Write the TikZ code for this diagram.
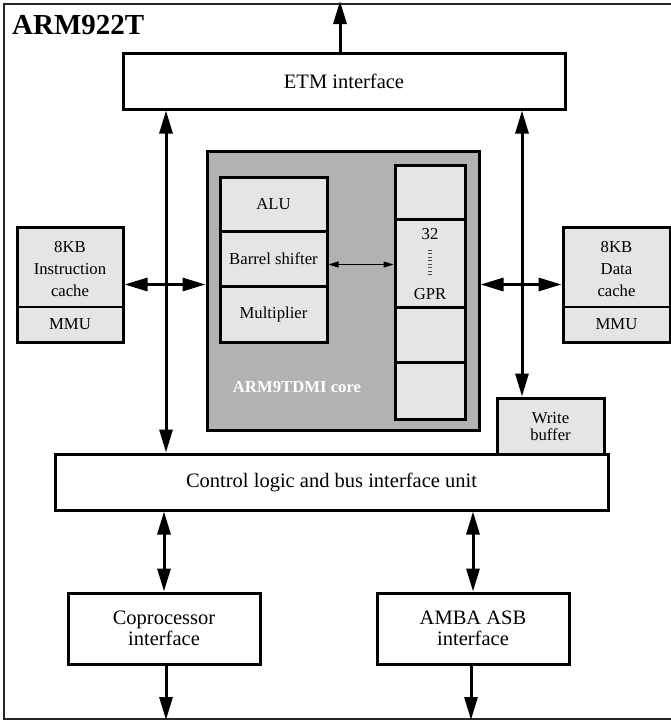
\documentclass[tikz,border=0pt]{standalone}
\usepackage{fontspec}
\setmainfont{Liberation Serif}
\usetikzlibrary{arrows.meta}

\begin{document}
\begin{tikzpicture}[x=1pt, y=-1pt,
  box/.style={draw, line width=3pt, fill=white, inner sep=0pt, align=center,
    font={\fontsize{20.5}{21}\selectfont}},
  unit/.style={box, fill=black!10, minimum width=107pt,
    font={\fontsize{16.7}{22}\selectfont}},
  reg/.style={box, fill=black!10, minimum width=70pt},
  txt/.style={inner sep=0pt, align=center, font={\fontsize{16.7}{22}\selectfont}},
  bus/.style={line width=3pt, {Triangle[length=23pt,width=13pt]}-{Triangle[length=23pt,width=13pt]}},
  busout/.style={line width=3pt, -{Triangle[length=23pt,width=13pt]}},
  thinbus/.style={line width=1.3pt, {Triangle[length=10pt,width=6pt]}-{Triangle[length=10pt,width=6pt]}}]
  \useasboundingbox (0,0) rectangle (671,721);
  % Frame
  \draw[line width=1.5pt, black!85] (680,4) -- (4,4) -- (4,719) -- (680,719);
  \node[anchor=base west, inner sep=0pt, font={\bfseries\fontsize{29}{29}\selectfont}] (title) at (12,34) {ARM922T};
  % ETM
  \node[box, minimum width=442pt, minimum height=56pt] (etm) at (344,81) {ETM interface};
  % Core
  \node[box, fill=black!30, minimum width=272pt, minimum height=279pt] (core) at (343,290.5) {};
  \node[unit, minimum height=54pt] (alu) at (273.5,204) {ALU};
  \node[unit, minimum height=55pt] (barrel) at (273.5,258.5) {Barrel shifter};
  \node[unit, minimum height=56pt] (mult) at (273.5,314) {Multiplier};
  \node[reg, minimum height=54pt] (gpr1) at (430,192) {};
  \node[reg, minimum height=88pt] (gpr2) at (430,263) {};
  \node[reg, minimum height=55pt] (gpr3) at (430,334.5) {};
  \node[reg, minimum height=57pt] (gpr4) at (430,390.5) {};
  \node[txt] (gprnum) at (430,234) {32};
  \node[txt] (gprname) at (430,294) {GPR};
  \draw[line width=3.5pt, black!70, dash pattern=on 0.9pt off 2.6pt]
    ([yshift=-10pt]gprnum.south) -- ([yshift=11pt]gprname.north);
  \node[txt, text=white, font={\bfseries\fontsize{16.7}{20}\selectfont}] (corelabel) at (297,387) {ARM9TDMI core};
  % Caches
  \node[unit, minimum width=106pt, minimum height=115pt] (icache) at (70,284.5) {};
  \node[txt] (ictext) at (70,269) {8KB\\Instruction\\cache};
  \node[txt, minimum width=106pt, minimum height=35pt] (immu) at (70,324.5) {MMU};
  \draw[line width=1.5pt] (immu.north west) -- (immu.north east);
  \node[unit, minimum height=115pt] (dcache) at (616.5,284.5) {};
  \node[txt] (dctext) at (616.5,269) {8KB\\Data\\cache};
  \node[txt, minimum width=107pt, minimum height=35pt] (dmmu) at (616.5,324.5) {MMU};
  \draw[line width=1.5pt] (dmmu.north west) -- (dmmu.north east);
  % Write buffer and bus unit
  \node[unit, minimum height=57pt, font={\fontsize{16.7}{17}\selectfont}] (wbuf) at (550.5,426.5) {Write\\buffer};
  \node[box, minimum width=553pt, minimum height=56pt] (ctrl) at (331.5,482) {Control logic and bus interface unit};
  \node[box, minimum width=192pt, minimum height=71pt] (cop) at (164,628.5) {Coprocessor\\interface};
  \node[box, minimum width=192pt, minimum height=71pt] (amba) at (473,628.5) {AMBA ASB\\interface};
  % Buses
  \coordinate (lbus) at (166,0);
  \coordinate (rbus) at (522,0);
  \coordinate (etmout) at (340,1);
  \coordinate (copout) at (166,720);
  \coordinate (ambaout) at (471,720);
  \draw[bus] (etm.south -| lbus) -- (ctrl.north -| lbus);
  \draw[bus] (etm.south -| rbus) -- (wbuf.north -| rbus);
  \draw[bus] (icache.east) -- (icache.east -| core.west);
  \draw[bus] (core.east |- dcache.west) -- (dcache.west);
  \draw[thinbus] ([yshift=-6pt]barrel.east) -- ([yshift=-6pt]barrel.east -| gpr2.west);
  \draw[bus] (ctrl.south -| cop.north) -- (cop.north);
  \draw[bus] (ctrl.south -| amba.north) -- (amba.north);
  \draw[busout] (etm.north -| etmout) -- (etmout);
  \draw[busout] (cop.south -| copout) -- (copout);
  \draw[busout] (amba.south -| ambaout) -- (ambaout);
\end{tikzpicture}
\end{document}
